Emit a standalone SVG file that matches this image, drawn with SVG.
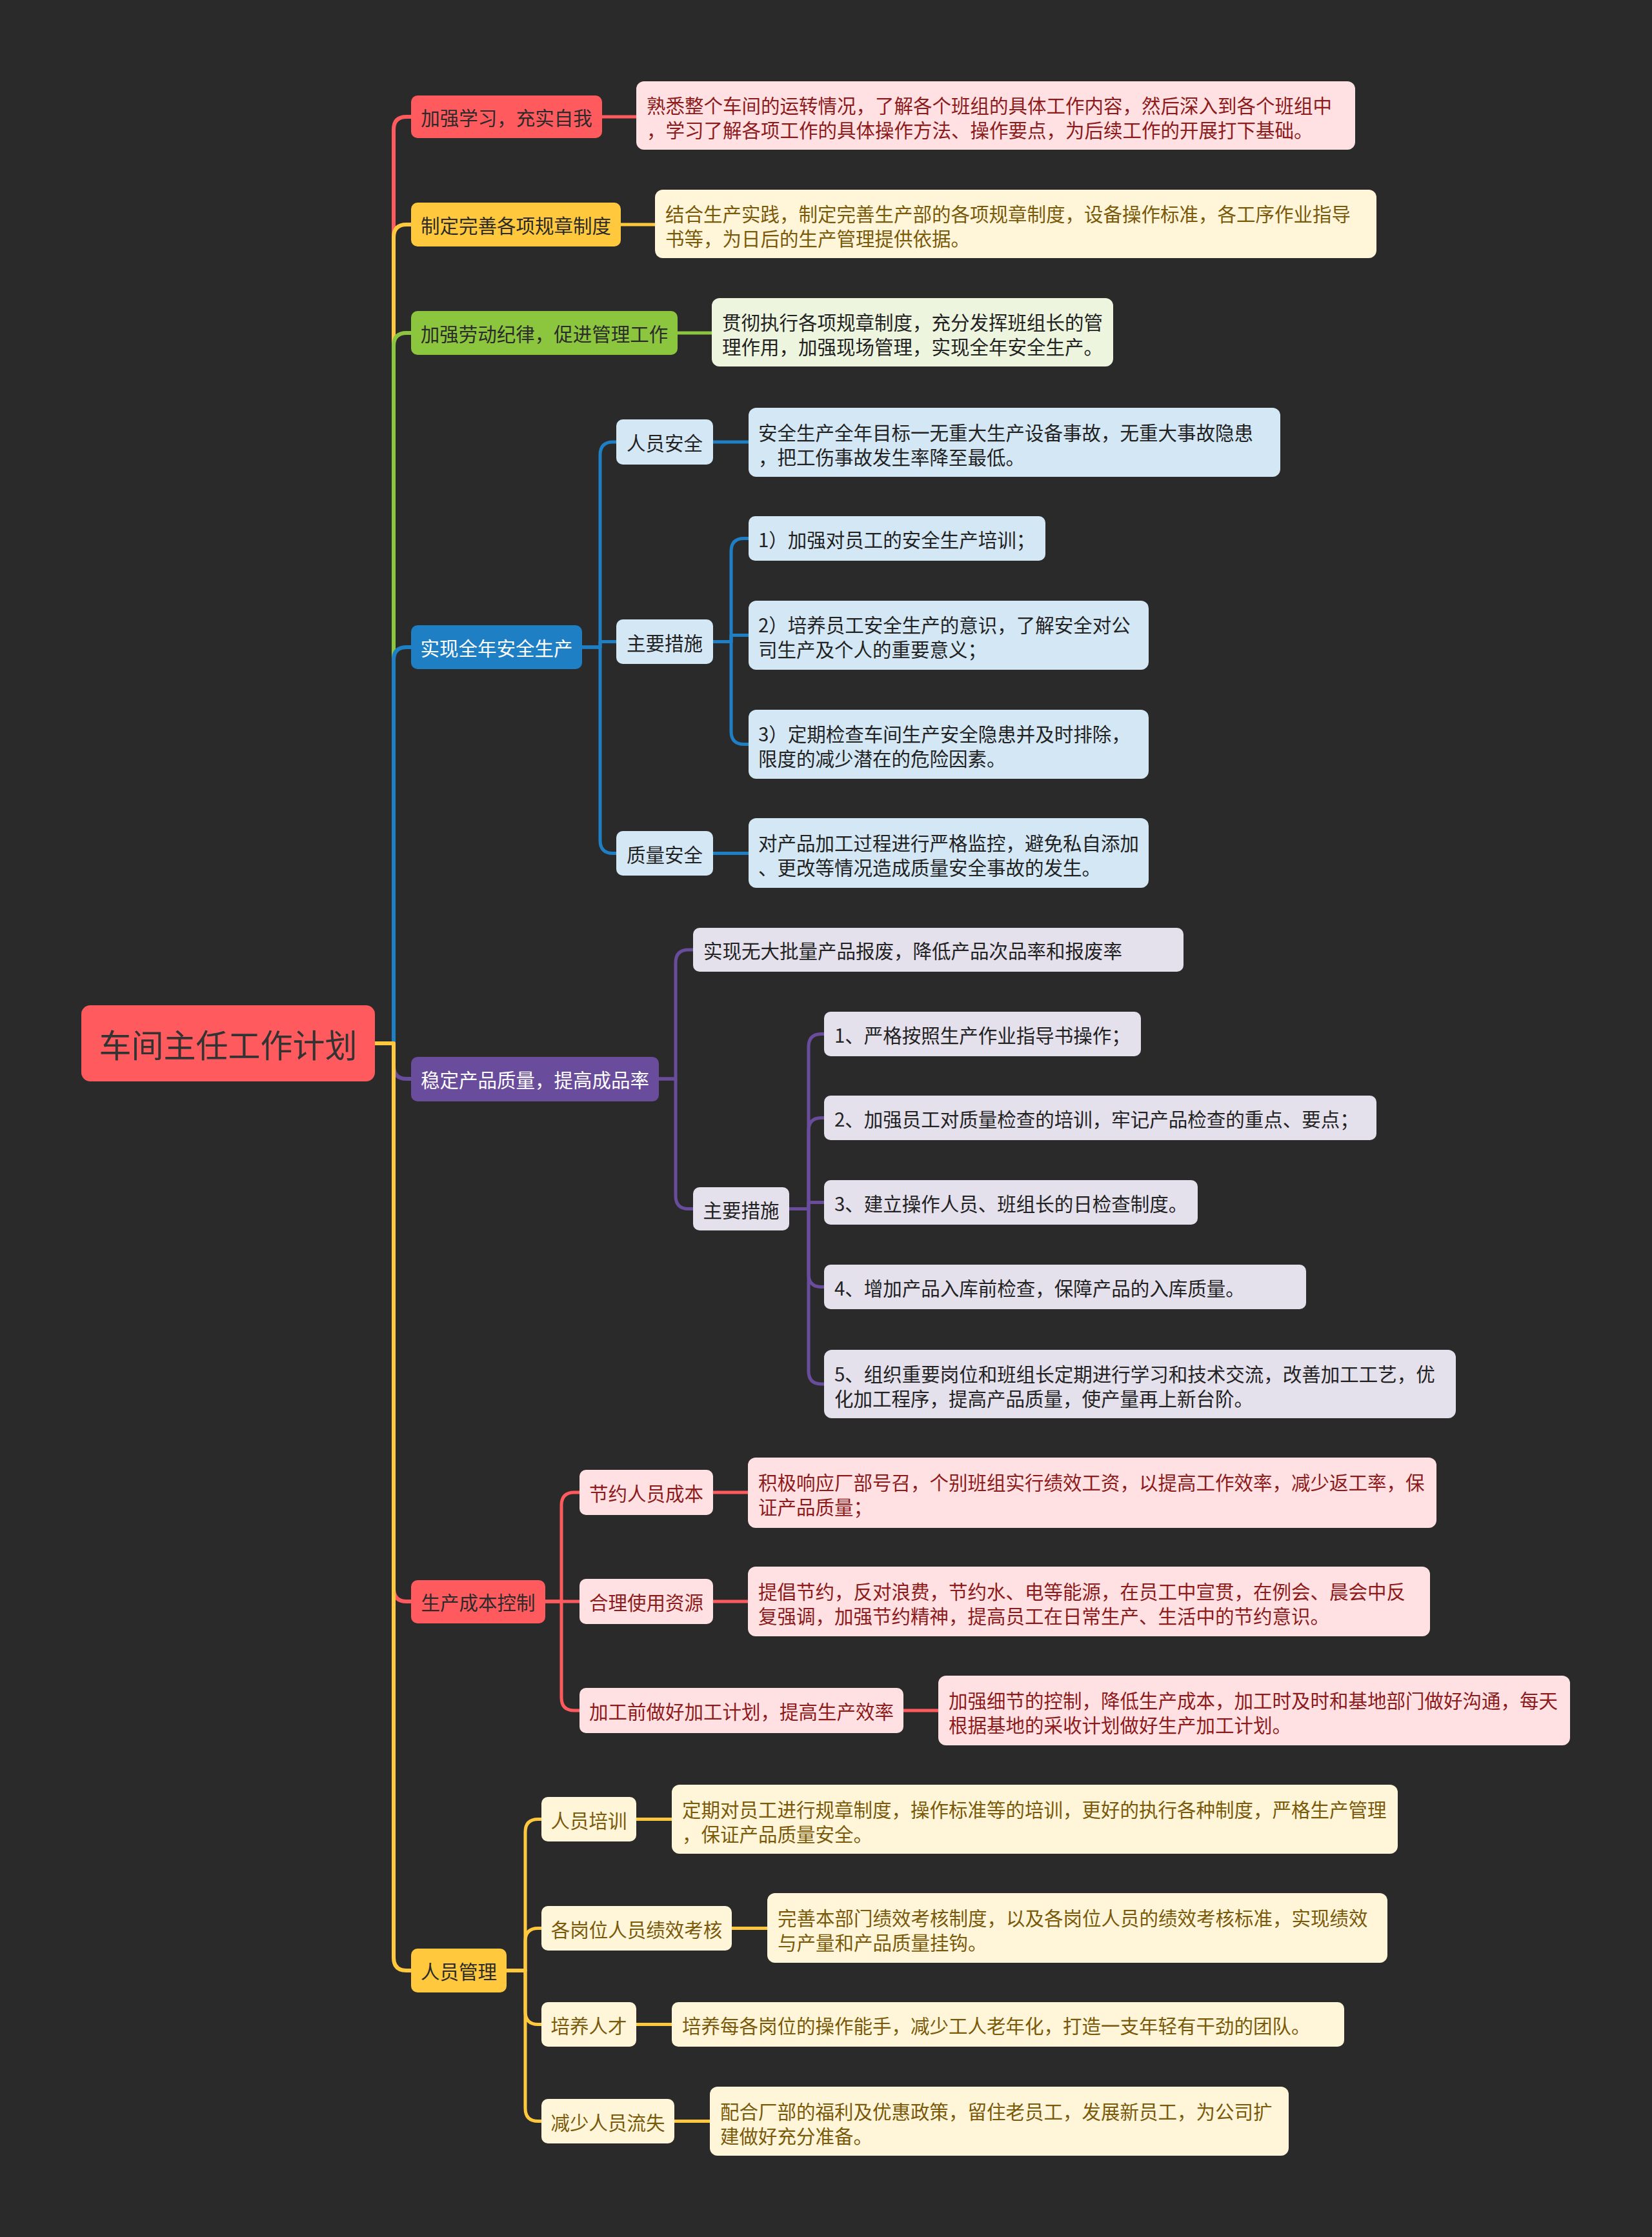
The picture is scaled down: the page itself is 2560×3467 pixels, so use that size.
<svg xmlns="http://www.w3.org/2000/svg" width="2560" height="3467" viewBox="0 0 2560 3467">
<style>
text{font-family:"Noto Sans CJK SC","Noto Sans",sans-serif;font-size:29.5px;dominant-baseline:central}
.m{text-anchor:middle}
.root{font-size:50px;fill:#333}
.c{fill:none;stroke-linejoin:round;stroke-linecap:butt}
.l1{stroke-width:6}
.l2{stroke-width:5}
.sr{stroke:#FF5A5E}.sy{stroke:#FFC83D}.sg{stroke:#8CC63F}.sb{stroke:#1E7FC4}.sp{stroke:#6A4C9C}
.fr{fill:#FF5A5E}.fy{fill:#FFC83D}.fg{fill:#8CC63F}.fb{fill:#1E7FC4}.fp{fill:#6A4C9C}
.lr{fill:#FFE1E3}.ly{fill:#FFF6DA}.lg{fill:#EDF5DF}.lb{fill:#D4E7F5}.lp{fill:#E4E0EC}
.td{fill:#2b2b2b}.tw{fill:#ffffff}.tr{fill:#8E1B1B}.ty{fill:#7A5A0A}.tk{fill:#222222}
</style>
<rect x="0" y="0" width="2560" height="3467" fill="#2a2a2a"/>
<g id="connectors">
<path class="c l1 sr" d="M581 1617 H610 V201 Q610 181 630 181 H640"/>
<path class="c l1 sy" d="M581 1617 H610 V368 Q610 348 630 348 H640"/>
<path class="c l1 sg" d="M581 1617 H610 V536 Q610 516 630 516 H640"/>
<path class="c l1 sb" d="M581 1617 H610 V1023 Q610 1003 630 1003 H640"/>
<path class="c l1 sp" d="M581 1617 H610 V1652 Q610 1672 630 1672 H640"/>
<path class="c l1 sr" d="M581 1617 H610 V2462 Q610 2482 630 2482 H640"/>
<path class="c l1 sy" d="M581 1617 H610 V3034 Q610 3054 630 3054 H640"/>
<path class="c l2 sr" d="M930 181 H989"/>
<path class="c l2 sy" d="M959 348 H1018"/>
<path class="c l2 sg" d="M1047 516 H1106"/>
<path class="c l2 sb" d="M899 1003 H930 V705 Q930 685 950 685 H958"/>
<path class="c l2 sb" d="M899 1003 H930 V994.5 H958"/>
<path class="c l2 sb" d="M899 1003 H930 V1302.5 Q930 1322.5 950 1322.5 H958"/>
<path class="c l2 sb" d="M1102 685 H1163"/>
<path class="c l2 sb" d="M1102 994.5 H1133 V854.5 Q1133 834.5 1153 834.5 H1163"/>
<path class="c l2 sb" d="M1102 994.5 H1133 V984.5 H1163"/>
<path class="c l2 sb" d="M1102 994.5 H1133 V1133.5 Q1133 1153.5 1153 1153.5 H1163"/>
<path class="c l2 sb" d="M1102 1322.5 H1163"/>
<path class="c l2 sp" d="M1018 1672 H1047 V1492 Q1047 1472 1067 1472 H1077"/>
<path class="c l2 sp" d="M1018 1672 H1047 V1853.5 Q1047 1873.5 1067 1873.5 H1077"/>
<path class="c l2 sp" d="M1220 1873.5 H1253 V1622.5 Q1253 1602.5 1273 1602.5 H1280"/>
<path class="c l2 sp" d="M1220 1873.5 H1253 V1752.5 Q1253 1732.5 1273 1732.5 H1280"/>
<path class="c l2 sp" d="M1220 1873.5 H1253 V1863.5 H1280"/>
<path class="c l2 sp" d="M1220 1873.5 H1253 V1974.5 Q1253 1994.5 1273 1994.5 H1280"/>
<path class="c l2 sp" d="M1220 1873.5 H1253 V2125 Q1253 2145 1273 2145 H1280"/>
<path class="c l2 sr" d="M842 2482 H870 V2333 Q870 2313 890 2313 H901"/>
<path class="c l2 sr" d="M842 2482 H901"/>
<path class="c l2 sr" d="M842 2482 H870 V2631 Q870 2651 890 2651 H901"/>
<path class="c l2 sr" d="M1102 2313 H1162"/>
<path class="c l2 sr" d="M1102 2482 H1162"/>
<path class="c l2 sr" d="M1397 2651 H1457"/>
<path class="c l2 sy" d="M782 3054 H814 V2839.5 Q814 2819.5 834 2819.5 H842"/>
<path class="c l2 sy" d="M782 3054 H814 V3008.5 Q814 2988.5 834 2988.5 H842"/>
<path class="c l2 sy" d="M782 3054 H814 V3117.5 Q814 3137.5 834 3137.5 H842"/>
<path class="c l2 sy" d="M782 3054 H814 V3267.5 Q814 3287.5 834 3287.5 H842"/>
<path class="c l2 sy" d="M983 2819.5 H1044"/>
<path class="c l2 sy" d="M1131 2988.5 H1192"/>
<path class="c l2 sy" d="M983 3137.5 H1044"/>
<path class="c l2 sy" d="M1042 3287.5 H1103"/>
</g>
<g id="root"><rect x="126" y="1558" width="455" height="118" rx="14" class="fr"/><text x="353.5" y="1617" class="m root">车间主任工作计划</text></g>
<g id="b1"><rect x="637" y="148" width="296" height="66" rx="10" class="fr"/><text x="785" y="181" class="m td">加强学习，充实自我</text></g>
<g id="b1d"><rect x="986" y="126" width="1114" height="106" rx="12" class="lr"/><text x="1002" y="162" class="tr">熟悉整个车间的运转情况，了解各个班组的具体工作内容，然后深入到各个班组中</text><text x="1002" y="200" class="tr">，学习了解各项工作的具体操作方法、操作要点，为后续工作的开展打下基础。</text></g>
<g id="b2"><rect x="637" y="314" width="325" height="68" rx="10" class="fy"/><text x="799.5" y="348" class="m td">制定完善各项规章制度</text></g>
<g id="b2d"><rect x="1015" y="294" width="1118" height="106" rx="12" class="ly"/><text x="1031" y="330" class="ty">结合生产实践，制定完善生产部的各项规章制度，设备操作标准，各工序作业指导</text><text x="1031" y="368" class="ty">书等，为日后的生产管理提供依据。</text></g>
<g id="b3"><rect x="637" y="482" width="413" height="68" rx="10" class="fg"/><text x="843.5" y="516" class="m td">加强劳动纪律，促进管理工作</text></g>
<g id="b3d"><rect x="1103" y="462" width="622" height="106" rx="12" class="lg"/><text x="1119" y="498" class="tk">贯彻执行各项规章制度，充分发挥班组长的管</text><text x="1119" y="536" class="tk">理作用，加强现场管理，实现全年安全生产。</text></g>
<g id="b4"><rect x="637" y="969" width="265" height="68" rx="10" class="fb"/><text x="769.5" y="1003" class="m tw">实现全年安全生产</text></g>
<g id="b41"><rect x="955" y="650" width="150" height="70" rx="10" class="lb"/><text x="1030" y="685" class="m tk">人员安全</text></g>
<g id="b41d"><rect x="1160" y="632" width="824" height="107" rx="12" class="lb"/><text x="1175" y="669" class="tk">安全生产全年目标一无重大生产设备事故，无重大事故隐患</text><text x="1175" y="707" class="tk">，把工伤事故发生率降至最低。</text></g>
<g id="b42"><rect x="955" y="960" width="150" height="69" rx="10" class="lb"/><text x="1030" y="994.5" class="m tk">主要措施</text></g>
<g id="b421"><rect x="1160" y="800" width="460" height="69" rx="10" class="lb"/><text x="1175" y="834.5" class="tk">1）加强对员工的安全生产培训；</text></g>
<g id="b422"><rect x="1160" y="931" width="620" height="107" rx="12" class="lb"/><text x="1175" y="967" class="tk">2）培养员工安全生产的意识，了解安全对公</text><text x="1175" y="1005" class="tk">司生产及个人的重要意义；</text></g>
<g id="b423"><rect x="1160" y="1100" width="620" height="107" rx="12" class="lb"/><text x="1175" y="1136" class="tk">3）定期检查车间生产安全隐患并及时排除，</text><text x="1175" y="1174" class="tk">限度的减少潜在的危险因素。</text></g>
<g id="b43"><rect x="955" y="1288" width="150" height="69" rx="10" class="lb"/><text x="1030" y="1322.5" class="m tk">质量安全</text></g>
<g id="b43d"><rect x="1160" y="1268" width="620" height="108" rx="12" class="lb"/><text x="1175" y="1305" class="tk">对产品加工过程进行严格监控，避免私自添加</text><text x="1175" y="1343" class="tk">、更改等情况造成质量安全事故的发生。</text></g>
<g id="b5"><rect x="637" y="1638" width="384" height="69" rx="10" class="fp"/><text x="829" y="1672" class="m tw">稳定产品质量，提高成品率</text></g>
<g id="b51"><rect x="1074" y="1438" width="760" height="68" rx="10" class="lp"/><text x="1090" y="1472" class="tk">实现无大批量产品报废，降低产品次品率和报废率</text></g>
<g id="b52"><rect x="1074" y="1840" width="149" height="67" rx="10" class="lp"/><text x="1148.5" y="1873.5" class="m tk">主要措施</text></g>
<g id="b521"><rect x="1277" y="1568" width="491" height="69" rx="10" class="lp"/><text x="1293" y="1602.5" class="tk">1、严格按照生产作业指导书操作；</text></g>
<g id="b522"><rect x="1277" y="1698" width="856" height="69" rx="10" class="lp"/><text x="1293" y="1732.5" class="tk">2、加强员工对质量检查的培训，牢记产品检查的重点、要点；</text></g>
<g id="b523"><rect x="1277" y="1829" width="579" height="69" rx="10" class="lp"/><text x="1293" y="1863.5" class="tk">3、建立操作人员、班组长的日检查制度。</text></g>
<g id="b524"><rect x="1277" y="1960" width="747" height="69" rx="10" class="lp"/><text x="1293" y="1994.5" class="tk">4、增加产品入库前检查，保障产品的入库质量。</text></g>
<g id="b525"><rect x="1277" y="2092" width="979" height="106" rx="12" class="lp"/><text x="1293" y="2128" class="tk">5、组织重要岗位和班组长定期进行学习和技术交流，改善加工工艺，优</text><text x="1293" y="2166" class="tk">化加工程序，提高产品质量，使产量再上新台阶。</text></g>
<g id="b6"><rect x="637" y="2449" width="208" height="67" rx="10" class="fr"/><text x="741" y="2482" class="m td">生产成本控制</text></g>
<g id="b61"><rect x="898" y="2278" width="207" height="70" rx="10" class="lr"/><text x="1001.5" y="2313" class="m tr">节约人员成本</text></g>
<g id="b61d"><rect x="1159" y="2259" width="1067" height="109" rx="12" class="lr"/><text x="1175" y="2296" class="tr">积极响应厂部号召，个别班组实行绩效工资，以提高工作效率，减少返工率，保</text><text x="1175" y="2334" class="tr">证产品质量；</text></g>
<g id="b62"><rect x="898" y="2447" width="207" height="70" rx="10" class="lr"/><text x="1001.5" y="2482" class="m tr">合理使用资源</text></g>
<g id="b62d"><rect x="1159" y="2428" width="1057" height="108" rx="12" class="lr"/><text x="1175" y="2465" class="tr">提倡节约，反对浪费，节约水、电等能源，在员工中宣贯，在例会、晨会中反</text><text x="1175" y="2503" class="tr">复强调，加强节约精神，提高员工在日常生产、生活中的节约意识。</text></g>
<g id="b63"><rect x="898" y="2616" width="502" height="70" rx="10" class="lr"/><text x="1149" y="2651" class="m tr">加工前做好加工计划，提高生产效率</text></g>
<g id="b63d"><rect x="1454" y="2597" width="979" height="108" rx="12" class="lr"/><text x="1470" y="2634" class="tr">加强细节的控制，降低生产成本，加工时及时和基地部门做好沟通，每天</text><text x="1470" y="2672" class="tr">根据基地的采收计划做好生产加工计划。</text></g>
<g id="b7"><rect x="637" y="3020" width="148" height="68" rx="10" class="fy"/><text x="711" y="3054" class="m td">人员管理</text></g>
<g id="b71"><rect x="839" y="2785" width="147" height="69" rx="10" class="ly"/><text x="912.5" y="2819.5" class="m ty">人员培训</text></g>
<g id="b71d"><rect x="1041" y="2766" width="1125" height="107" rx="12" class="ly"/><text x="1057" y="2802.5" class="ty">定期对员工进行规章制度，操作标准等的培训，更好的执行各种制度，严格生产管理</text><text x="1057" y="2840.5" class="ty">，保证产品质量安全。</text></g>
<g id="b72"><rect x="839" y="2954" width="295" height="69" rx="10" class="ly"/><text x="986.5" y="2988.5" class="m ty">各岗位人员绩效考核</text></g>
<g id="b72d"><rect x="1189" y="2934" width="961" height="108" rx="12" class="ly"/><text x="1205" y="2971" class="ty">完善本部门绩效考核制度，以及各岗位人员的绩效考核标准，实现绩效</text><text x="1205" y="3009" class="ty">与产量和产品质量挂钩。</text></g>
<g id="b73"><rect x="839" y="3103" width="147" height="69" rx="10" class="ly"/><text x="912.5" y="3137.5" class="m ty">培养人才</text></g>
<g id="b73d"><rect x="1041" y="3103" width="1042" height="69" rx="10" class="ly"/><text x="1057" y="3137.5" class="ty">培养每各岗位的操作能手，减少工人老年化，打造一支年轻有干劲的团队。</text></g>
<g id="b74"><rect x="839" y="3253" width="206" height="69" rx="10" class="ly"/><text x="942" y="3287.5" class="m ty">减少人员流失</text></g>
<g id="b74d"><rect x="1100" y="3234" width="897" height="107" rx="12" class="ly"/><text x="1116" y="3270.5" class="ty">配合厂部的福利及优惠政策，留住老员工，发展新员工，为公司扩</text><text x="1116" y="3308.5" class="ty">建做好充分准备。</text></g>
</svg>
